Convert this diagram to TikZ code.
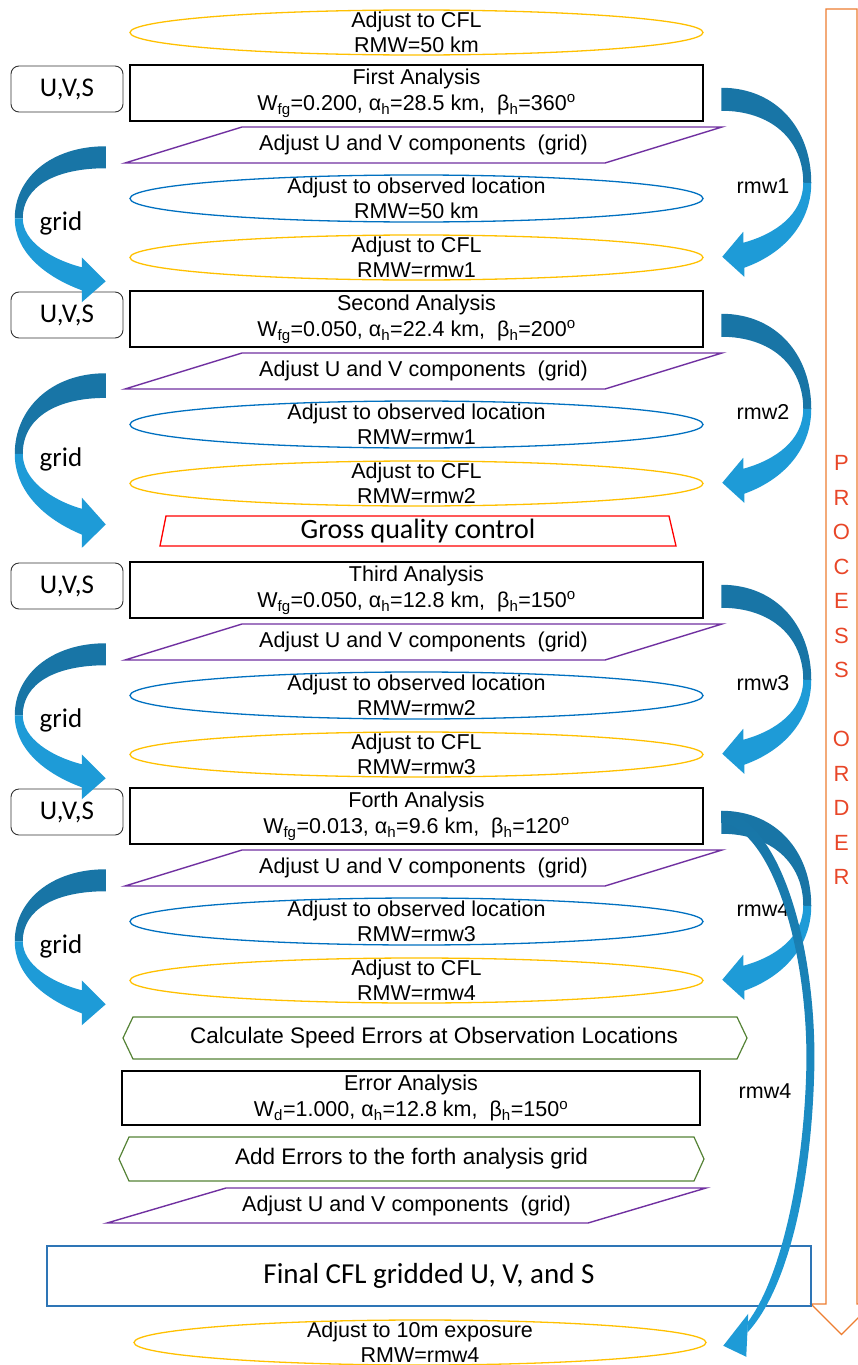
\documentclass[tikz,border=0pt]{standalone}
\usepackage{fontspec}
\setmainfont{Liberation Sans}
\newfontfamily\calibri{Carlito}
\usetikzlibrary{calc}

\definecolor{cflgold}{RGB}{255,192,0}
\definecolor{obsblue}{RGB}{0,112,192}
\definecolor{adjpurple}{RGB}{112,48,160}
\definecolor{errgreen}{RGB}{84,130,53}
\definecolor{finalblue}{RGB}{46,117,182}
\definecolor{orderorange}{RGB}{237,125,49}
\definecolor{orderred}{RGB}{232,70,40}
\definecolor{arrdark}{RGB}{24,117,166}
\definecolor{arrlight}{RGB}{30,155,215}

\tikzset{
  txt/.style={font=\fontsize{21.5}{25}\selectfont, align=center, inner sep=0pt},
  anabox/.style={txt, font=\fontsize{21.5}{26}\selectfont, draw, line width=2.5pt,
    minimum width=573, minimum height=56},
  uvsbox/.style={draw=black!80, rounded corners=8pt, line width=0.9pt,
    minimum width=112, minimum height=46, inner sep=0pt,
    font=\calibri\fontsize{27}{30}\selectfont},
  cflline/.style={draw=cflgold, line width=1.3pt},
  obsline/.style={draw=obsblue, line width=1.3pt},
  adjline/.style={draw=adjpurple, line width=1.4pt},
  errline/.style={draw=errgreen, line width=1.2pt},
  lbl/.style={inner sep=0pt, font=\fontsize{21.5}{25}\selectfont},
  gridlbl/.style={inner sep=0pt, font=\calibri\fontsize{27}{30}\selectfont},
  order/.style={inner sep=0pt, text=orderred, font=\fontsize{22}{24}\selectfont}
}

\begin{document}
\begin{tikzpicture}[x=1pt,y=-1pt]
  \useasboundingbox (0,0) rectangle (858,1365);
  \clip (0,0) rectangle (858,1365);

  % process order arrow
  \draw[orderorange, line width=1.3pt] (826,9) -- (857,9) -- (857,1304) -- (872,1304)
    -- (841.5,1334.5) -- (811,1304) -- (826,1304) -- cycle;
  \foreach \ch/\k in {P/0,R/1,O/2,C/3,E/4,S/5,S/6,O/8,R/9,D/10,E/11,R/12}
    \node[order] (ord\k) at (841.5,463+34.5*\k) {\ch};

  % top
  \node[txt] (cfl0) at (416.5,32.5) {Adjust to CFL\\RMW=50 km};
  \draw[cflline] (cfl0) ellipse [x radius=286.5, y radius=22.5];

  % first analysis
  \node[uvsbox] (uvs1) at (67,89) {U,V,S};
  \node[anabox] (ana1) at (416.5,93) {First Analysis\\W\textsubscript{fg}=0.200, α\textsubscript{h}=28.5 km,\ \ β\textsubscript{h}=360\textsuperscript{o}};
  \node[txt] (adj1) at (423.5,145) {Adjust U and V components\ \ (grid)};
  \draw[adjline, shift={(adj1)}] (-181.5,-18) -- (298.5,-18) -- (181.5,18) -- (-298.5,18) -- cycle;
  \node[txt] (obs1) at (416.5,198.5) {Adjust to observed location\\RMW=50 km};
  \draw[obsline] (obs1) ellipse [x radius=286.5, y radius=23.5];
  \node[txt] (cfl1) at (416.5,257.5) {Adjust to CFL\\RMW=rmw1};
  \draw[cflline] (cfl1) ellipse [x radius=286.5, y radius=22.5];

  % second analysis
  \node[uvsbox] (uvs2) at (67,315) {U,V,S};
  \node[anabox] (ana2) at (416.5,319) {Second Analysis\\W\textsubscript{fg}=0.050, α\textsubscript{h}=22.4 km,\ \ β\textsubscript{h}=200\textsuperscript{o}};
  \node[txt] (adj2) at (423.5,371) {Adjust U and V components\ \ (grid)};
  \draw[adjline, shift={(adj2)}] (-181.5,-18) -- (298.5,-18) -- (181.5,18) -- (-298.5,18) -- cycle;
  \node[txt] (obs2) at (416.5,424.5) {Adjust to observed location\\RMW=rmw1};
  \draw[obsline] (obs2) ellipse [x radius=286.5, y radius=23.5];
  \node[txt] (cfl2) at (416.5,483.5) {Adjust to CFL\\RMW=rmw2};
  \draw[cflline] (cfl2) ellipse [x radius=286.5, y radius=22.5];
  \node[inner sep=0pt, font=\calibri\fontsize{28}{30}\selectfont] (gqc) at (418,531) {Gross quality control};
  \draw[red, line width=1.3pt, shift={(gqc)}] (-252,-15) -- (251,-15) -- (258,15) -- (-258,15) -- cycle;

  % third analysis
  \node[uvsbox] (uvs3) at (67,586) {U,V,S};
  \node[anabox] (ana3) at (416.5,590) {Third Analysis\\W\textsubscript{fg}=0.050, α\textsubscript{h}=12.8 km,\ \ β\textsubscript{h}=150\textsuperscript{o}};
  \node[txt] (adj3) at (423.5,642) {Adjust U and V components\ \ (grid)};
  \draw[adjline, shift={(adj3)}] (-181.5,-18) -- (298.5,-18) -- (181.5,18) -- (-298.5,18) -- cycle;
  \node[txt] (obs3) at (416.5,695.5) {Adjust to observed location\\RMW=rmw2};
  \draw[obsline] (obs3) ellipse [x radius=286.5, y radius=23.5];
  \node[txt] (cfl3) at (416.5,754.5) {Adjust to CFL\\RMW=rmw3};
  \draw[cflline] (cfl3) ellipse [x radius=286.5, y radius=22.5];

  % forth analysis
  \node[uvsbox] (uvs4) at (67,812) {U,V,S};
  \node[anabox] (ana4) at (416.5,816) {Forth Analysis\\W\textsubscript{fg}=0.013, α\textsubscript{h}=9.6 km,\ \ β\textsubscript{h}=120\textsuperscript{o}};
  \node[txt] (adj4) at (423.5,868) {Adjust U and V components\ \ (grid)};
  \draw[adjline, shift={(adj4)}] (-181.5,-18) -- (298.5,-18) -- (181.5,18) -- (-298.5,18) -- cycle;
  \node[txt] (obs4) at (416.5,921.5) {Adjust to observed location\\RMW=rmw3};
  \draw[obsline] (obs4) ellipse [x radius=286.5, y radius=23.5];
  \node[txt] (cfl4) at (416.5,980.5) {Adjust to CFL\\RMW=rmw4};
  \draw[cflline] (cfl4) ellipse [x radius=286.5, y radius=22.5];

  % error part
  \node[txt, font=\fontsize{22.5}{25}\selectfont] (spd) at (434,1038) {Calculate Speed Errors at Observation Locations};
  \draw[errline, shift={(spd)}] (-311,0) -- (-301,-21) -- (303,-21) -- (313,0) -- (303,21) -- (-301,21) -- cycle;
  \node[anabox, minimum width=578, minimum height=54] (err) at (411,1098) {Error Analysis\\W\textsubscript{d}=1.000, α\textsubscript{h}=12.8 km,\ \ β\textsubscript{h}=150\textsuperscript{o}};
  \node[txt, font=\fontsize{22.5}{25}\selectfont] (adderr) at (411.5,1159) {Add Errors to the forth analysis grid};
  \draw[errline, shift={(adderr)}] (-292.5,0) -- (-282.5,-22) -- (282.5,-22) -- (292.5,0) -- (282.5,22) -- (-282.5,22) -- cycle;
  \node[txt] (adj5) at (406.5,1205.5) {Adjust U and V components\ \ (grid)};
  \draw[adjline, shift={(adj5)}] (-180.5,-17.5) -- (299.5,-17.5) -- (181.5,17.5) -- (-299.5,17.5) -- cycle;
  \node[draw=finalblue, line width=1.3pt, minimum width=764, minimum height=60,
    font=\calibri\fontsize{29}{32}\selectfont] (final) at (429,1276) {Final CFL gridded U, V, and S};
  \node[txt] (cfl5) at (420,1342.5) {Adjust to 10m exposure\\RMW=rmw4};
  \draw[cflline] (cfl5) ellipse [x radius=286, y radius=22.5];

  % labels
  \node[gridlbl] (grid1) at (61,223) {grid};
  \node[gridlbl] (grid2) at (61,459) {grid};
  \node[gridlbl] (grid3) at (61,720) {grid};
  \node[gridlbl] (grid4) at (61,946) {grid};
  \node[lbl] (rmw1) at (763,186) {rmw1};
  \node[lbl] (rmw2) at (763,412) {rmw2};
  \node[lbl] (rmw3) at (763,683) {rmw3};
  \node[lbl] (rmw4) at (763,909) {rmw4};
  \node[lbl] (rmw5) at (765,1091) {rmw4};

  % curved arrows, right side
  \foreach \i in {1,...,4}{
    \begin{scope}[shift={([xshift=17pt,yshift=-24pt]ana\i.north east)}]
      \fill[arrdark] (0,0) .. controls (55,0) and (90,41) .. (90,95) -- (82,95)
        .. controls (82,52) and (50,23) .. (0,23) -- cycle;
      \fill[arrlight] (90,95) .. controls (90,136) and (62,166) .. (23,180) -- (23,189)
        -- (1,169) -- (22,144) -- (22,155) .. controls (55,146) and (82,126) .. (82,95) -- cycle;
    \end{scope}
  }
  % long arrow to the exposure step
  \begin{scope}[shift={([xshift=17pt,yshift=-24pt]ana4.north east)}]
    \shade[top color=arrdark, bottom color=arrlight] (0,0) .. controls (60,8) and (96,140) .. (93,260)
      .. controls (90,380) and (65,480) .. (26,522) -- (26,512) .. controls (58,470) and (82,370) .. (85,260)
      .. controls (88,140) and (50,18) .. (0,12) -- cycle;
    \fill[arrlight] (27,503) -- (2,535) -- (25,546) -- cycle;
  \end{scope}

  % curved arrows, left side
  \foreach \i in {1,3,4}{
    \begin{scope}[shift={([xshift=-23pt,yshift=-24pt]ana\i.south west)}]
      \fill[arrdark] (0,0) .. controls (-55,0) and (-91,32) .. (-91,72) -- (-83,72)
        .. controls (-83,40) and (-50,22) .. (0,22) -- cycle;
      \fill[arrlight] (-91,72) .. controls (-91,105) and (-62,130) .. (-24,144) -- (-24,156)
        -- (0,135) -- (-24,111) -- (-24,121) .. controls (-55,113) and (-83,95) .. (-83,72) -- cycle;
    \end{scope}
  }
  \begin{scope}[shift={([xshift=-23pt,yshift=-25pt]ana2.south west)}, yscale=1.12]
    \fill[arrdark] (0,0) .. controls (-55,0) and (-91,32) .. (-91,72) -- (-83,72)
      .. controls (-83,40) and (-50,22) .. (0,22) -- cycle;
    \fill[arrlight] (-91,72) .. controls (-91,105) and (-62,130) .. (-24,144) -- (-24,156)
      -- (0,135) -- (-24,111) -- (-24,121) .. controls (-55,113) and (-83,95) .. (-83,72) -- cycle;
  \end{scope}
\end{tikzpicture}
\end{document}
